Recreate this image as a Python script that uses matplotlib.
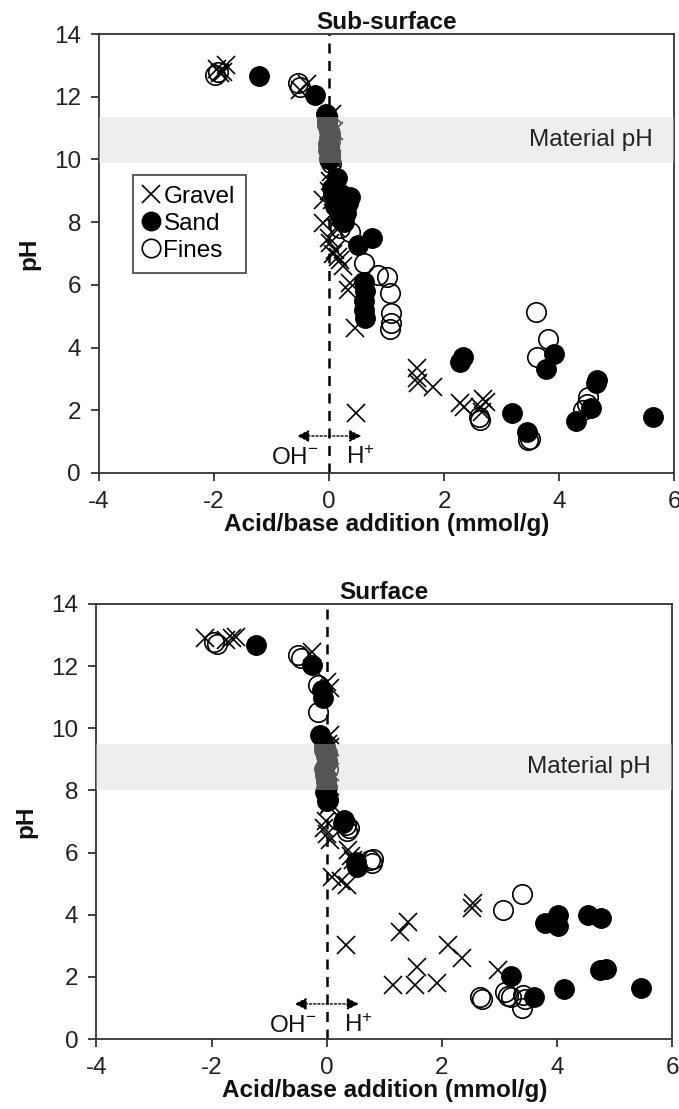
import matplotlib
matplotlib.use("Agg")
import matplotlib.pyplot as plt

plt.rcParams['font.family'] = ['Liberation Sans', 'DejaVu Sans']
plt.rcParams['mathtext.default'] = 'regular'

# ---------------- Data: Sub-surface ----------------
sub_gravel_x = [-1.95, -1.85, -1.8, -1.9, -0.5, -0.38,
                0.05, 0.0, 0.03, -0.02, 0.05, 0.08, 0.02,
                0.02, 0.0, 0.05, -0.1, -0.1, 0.0, 0.02, 0.07, 0.19, 0.24, 0.37, 0.33, 0.1, 0.15,
                0.04, 0.06, 0.12,
                0.45, 0.47,
                1.53, 1.53, 1.55, 1.81,
                2.28, 2.35, 2.63, 2.68, 2.72, 2.65]
sub_gravel_y = [12.9, 12.8, 13.0, 12.75, 12.2, 12.4,
                11.45, 11.1, 10.7, 10.3, 10.0, 10.9, 10.5,
                9.3, 9.0, 8.7, 8.7, 7.97, 7.5, 7.33, 7.0, 6.8, 6.6, 6.06, 5.84, 7.1, 6.9,
                9.6, 8.3, 7.8,
                4.62, 1.91,
                3.35, 3.03, 2.87, 2.74,
                2.23, 2.1, 2.1, 2.35, 2.25, 1.95]

sub_sand_x = [-1.22, -0.24,
              -0.04, 0.0, -0.02, 0.02, -0.05, -0.03, 0.0, -0.02, 0.01,
              0.14, 0.07, 0.37, 0.33, 0.19, 0.1, 0.3, 0.05, 0.2, 0.25,
              0.5, 0.75,
              0.6, 0.62, 0.6, 0.6, 0.62,
              2.28, 2.33,
              3.18, 3.44, 3.91, 3.77, 4.64, 4.65, 4.56, 4.3, 5.63]
sub_sand_y = [12.66, 12.05,
              11.3, 10.9, 10.5, 10.15, 11.45, 11.1, 10.7, 10.3, 10.0,
              9.4, 8.9, 8.8, 8.6, 8.2, 8.5, 8.3, 9.1, 8.9, 8.0,
              7.27, 7.5,
              6.1, 5.8, 5.5, 5.2, 4.95,
              3.55, 3.7,
              1.91, 1.31, 3.8, 3.32, 2.87, 2.95, 2.07, 1.66, 1.78]

sub_fines_x = [-1.98, -1.93, -0.54, -0.5,
               -0.03, 0.02, 0.0, 0.03, -0.04, 0.01, -0.01, 0.02,
               0.19, 0.37, 0.6, 0.85, 1.0, 1.06, 1.08, 1.08, 1.06,
               2.6, 2.63, 3.46, 3.5, 3.6, 3.81, 3.62, 4.5, 4.42, 4.48]
sub_fines_y = [12.7, 12.8, 12.43, 12.3,
               11.2, 10.6, 10.0, 9.9, 11.4, 10.8, 10.4, 10.2,
               7.8, 7.7, 6.7, 6.3, 6.25, 5.73, 5.1, 4.78, 4.6,
               1.8, 1.69, 1.05, 1.1, 5.13, 4.27, 3.7, 2.43, 2.0, 2.2]

# ---------------- Data: Surface ----------------
sur_gravel_x = [-2.12, -1.65, -1.57, -1.75, -0.26, 0.0, 0.05, 0.05,
                0.05, 0.0, 0.05, 0.0, 0.03, 0.02,
                0.0, 0.05, -0.05, 0.0, -0.02, 0.05, 0.02,
                0.37, 0.42, 0.45, 0.1, 0.25, 0.35, 0.33,
                1.27, 1.41, 1.57, 1.15, 1.53, 1.91, 2.1, 2.35, 2.54, 2.52, 2.97]
sur_gravel_y = [12.9, 12.9, 12.95, 12.85, 12.45, 11.5, 11.3, 9.78,
                9.4, 9.0, 8.6, 8.2, 9.5, 8.8,
                7.8, 7.6, 6.8, 6.6, 7.0, 6.4, 7.5,
                6.08, 5.9, 5.75, 5.2, 5.1, 4.95, 3.03,
                3.44, 3.77, 2.32, 1.74, 1.74, 1.8, 3.03, 2.6, 4.38, 4.22, 2.22]

sur_sand_x = [-1.23, -0.26, -0.09, -0.07, -0.12,
              -0.05, 0.0, -0.03, 0.0, -0.04, -0.02, -0.05, -0.01, -0.03, 0.0,
              0.0, 0.28, 0.3, 0.52, 0.5,
              3.2, 3.6, 4.12, 5.46, 3.79, 4.02, 4.02, 4.54, 4.77, 4.75, 4.85]
sur_sand_y = [12.68, 12.04, 11.23, 10.97, 9.78,
              9.3, 8.9, 8.5, 8.1, 9.45, 9.1, 8.7, 8.3, 7.95, 7.65,
              7.85, 6.95, 7.05, 5.53, 5.7,
              2.03, 1.35, 1.6, 1.64, 3.74, 3.99, 3.64, 3.99, 3.89, 2.22, 2.24]

sur_fines_x = [-1.95, -1.9, -0.5, -0.45, -0.16, -0.16,
               0.0, 0.02, -0.02, -0.03, 0.01, -0.01,
               0.02, 0.33, 0.38, 0.35,
               0.75, 0.78, 0.8,
               3.06, 3.39, 2.66, 2.7, 3.1, 3.15, 3.2, 3.41, 3.39, 3.45]
sur_fines_y = [12.78, 12.7, 12.35, 12.27, 11.4, 10.52,
               9.2, 8.7, 8.3, 9.4, 8.95, 8.05,
               7.7, 6.9, 6.8, 6.7,
               5.75, 5.65, 5.8,
               4.15, 4.67, 1.35, 1.3, 1.5, 1.4, 1.35, 1.42, 1.0, 1.3]

x_ticks = [-4, -2, 0, 2, 4, 6]
y_ticks = [0, 2, 4, 6, 8, 10, 12, 14]

FS = 17.5
MS = 14

fig = plt.figure(figsize=(6.79, 11.09), dpi=100)
ax1 = fig.add_axes([0.146, 0.5735, 0.847, 0.3958])
ax2 = fig.add_axes([0.142, 0.0631, 0.848, 0.3923])


def draw(ax, title, gx, gy, sx, sy, fx, fy, band, arrow_y, legend):
    ax.set_xlim(-4, 6)
    ax.set_ylim(0, 14)
    ax.set_xticks(x_ticks)
    ax.set_yticks(y_ticks)
    ax.set_xticklabels([str(v) for v in x_ticks])
    ax.set_yticklabels([str(v) for v in y_ticks])
    ax.tick_params(direction='out', length=6, width=1.2, pad=7,
                   labelsize=FS, colors='#222222')
    for s in ax.spines.values():
        s.set_linewidth(1.3)
        s.set_color('#333333')
    ax.axvline(0, color='black', lw=1.8, ls=(0, (4, 3)), zorder=1)
    hg, = ax.plot(gx, gy, ls='none', marker='x', ms=MS * 0.95, mew=1.2,
                  color='black', zorder=3, label='Gravel')
    hs, = ax.plot(sx, sy, ls='none', marker='o', ms=MS, mfc='black',
                  mec='black', mew=1.0, zorder=3, label='Sand')
    hf, = ax.plot(fx, fy, ls='none', marker='o', ms=MS, mfc='none',
                  mec='black', mew=1.2, zorder=3, label='Fines')
    ax.axhspan(band[0], band[1], color='#d6d6d6', alpha=0.4, lw=0, zorder=4)
    ax.text(0.962, (sum(band) / 2) / 14.0, 'Material pH', transform=ax.transAxes,
            ha='right', va='center', fontsize=FS, color='#222222', zorder=5)
    ax.set_title(title, fontsize=FS, fontweight='bold', pad=0, color='#111111')
    ax.set_xlabel('Acid/base addition (mmol/g)', fontsize=FS, fontweight='bold',
                  labelpad=0, color='#111111')
    ax.set_ylabel('pH', fontsize=FS, fontweight='bold', labelpad=10, color='#111111')
    ax.annotate('', xy=(-0.56, arrow_y), xytext=(0.56, arrow_y),
                arrowprops=dict(arrowstyle='<|-|>', color='black', lw=1.0,
                                ls=(0, (1.5, 1.5)), mutation_scale=18,
                                shrinkA=0, shrinkB=0), zorder=5)
    ax.text(-0.59, arrow_y - 0.7, 'OH$^{-}$', ha='center', va='center',
            fontsize=FS, color='#111111')
    ax.text(0.55, arrow_y - 0.7, 'H$^{+}$', ha='center', va='center',
            fontsize=FS, color='#111111')
    if legend:
        leg = ax.legend(handles=[hg, hs, hf], loc='upper left',
                        bbox_to_anchor=(0.059, 0.679), fontsize=FS,
                        frameon=True, fancybox=False, edgecolor='#222222',
                        handlelength=0.6, handletextpad=0.2, borderpad=0.45,
                        labelspacing=0.2, borderaxespad=0, markerscale=0.95)
        leg.get_frame().set_linewidth(1.3)
        leg.set_zorder(6)


draw(ax1, 'Sub-surface', sub_gravel_x, sub_gravel_y, sub_sand_x, sub_sand_y,
     sub_fines_x, sub_fines_y, (9.88, 11.35), 1.18, True)
draw(ax2, 'Surface', sur_gravel_x, sur_gravel_y, sur_sand_x, sur_sand_y,
     sur_fines_x, sur_fines_y, (8.0, 9.5), 1.13, False)

fig.savefig('out.png', dpi=100)
